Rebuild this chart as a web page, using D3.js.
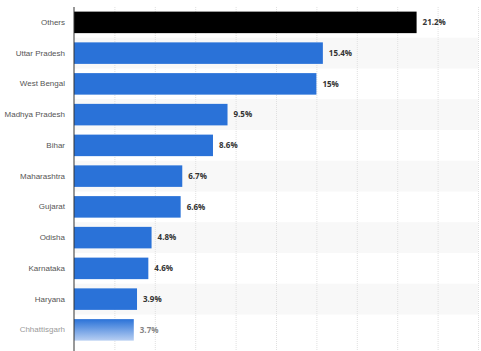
<!DOCTYPE html>
<html>
<head>
<meta charset="utf-8">
<script src="https://cdn.jsdelivr.net/npm/d3@7"></script>
<style>
  body { margin: 0; background: #fff; }
  svg { display: block; font-family: "Open Sans", "DejaVu Sans", sans-serif; }
  .label { fill: #555; font-size: 8px; }
  .value { fill: #333; font-size: 8px; font-weight: bold; }
</style>
</head>
<body>
<svg width="481" height="351"></svg>
<script>
let states = ["Others", "Uttar Pradesh", "West Bengal", "Madhya Pradesh", "Bihar",
              "Maharashtra", "Gujarat", "Odisha", "Karnataka", "Haryana", "Chhattisgarh"];
let shares = [21.2, 15.4, 15, 9.5, 8.6, 6.7, 6.6, 4.8, 4.6, 3.9, 3.7];
let valueLabels = ["21.2%", "15.4%", "15%", "9.5%", "8.6%", "6.7%", "6.6%", "4.8%", "4.6%", "3.9%", "3.7%"];
let gridTicks = d3.range(0, 25.1, 2.5);

let svg = d3.select("svg"),
    margin = { top: 7, right: 3, bottom: 0, left: 74 },
    width = +svg.attr("width") - margin.left - margin.right,
    g = svg.append("g").attr("transform", `translate(${margin.left},${margin.top})`);

let x = d3.scaleLinear()
    .domain([0, 25])
    .range([0, 404]);
let y = d3.scaleBand()
    .domain(states)
    .range([0, 30.75 * states.length]);
let barH = y.bandwidth() * 0.7;

// gradient for the faded last bar
let defs = svg.append("defs");
let grad = defs.append("linearGradient")
    .attr("id", "fade")
    .attr("x1", 0).attr("y1", 0).attr("x2", 0).attr("y2", 1);
grad.append("stop").attr("offset", "0%").attr("stop-color", "#2a72d8");
grad.append("stop").attr("offset", "100%").attr("stop-color", "#b8cff2");

// alternating row stripes
g.selectAll(".stripe")
    .data(states.filter((d, i) => i % 2 == 1))
    .enter().append("rect")
    .attr("class", "stripe")
    .attr("x", 0)
    .attr("y", d => y(d))
    .attr("width", width)
    .attr("height", y.bandwidth())
    .attr("fill", "#f8f8f8");

// vertical grid lines
g.append("g")
    .attr("class", "grid")
    .call(d3.axisBottom(x).tickValues(gridTicks.slice(1)).tickSize(351).tickFormat(""))
    .call(s => s.select(".domain").remove())
    .call(s => s.selectAll("line")
        .attr("stroke", "#e0e0e0")
        .attr("stroke-dasharray", "1,1"));

// bars
g.selectAll(".bar")
    .data(shares)
    .enter().append("rect")
    .attr("class", "bar")
    .attr("x", 0)
    .attr("y", (d, i) => y(states[i]) + (y.bandwidth() - barH) / 2)
    .attr("width", d => x(d))
    .attr("height", barH)
    .attr("fill", (d, i) => i == 0 ? "#000" : (i == states.length - 1 ? "url(#fade)" : "#2a72d8"));

// value labels
g.selectAll(".value")
    .data(shares)
    .enter().append("text")
    .attr("class", "value")
    .attr("x", d => x(d) + 6)
    .attr("y", (d, i) => y(states[i]) + y.bandwidth() / 2)
    .attr("dy", "0.35em")
    .attr("opacity", (d, i) => i == states.length - 1 ? 0.6 : 1)
    .text((d, i) => valueLabels[i]);

// category axis
let yAxis = g.append("g")
    .call(d3.axisLeft(y).tickSize(0).tickPadding(9));
yAxis.select(".domain").remove();
yAxis.selectAll("text")
    .attr("class", "label")
    .attr("fill", null)
    .attr("font-size", null)
    .attr("font-family", null)
    .attr("opacity", (d, i) => i == states.length - 1 ? 0.6 : 1);

g.append("line")
    .attr("x1", 0).attr("x2", 0)
    .attr("y1", 0).attr("y2", 351)
    .attr("stroke", "#333")
    .attr("stroke-width", 1);
</script>
</body>
</html>
